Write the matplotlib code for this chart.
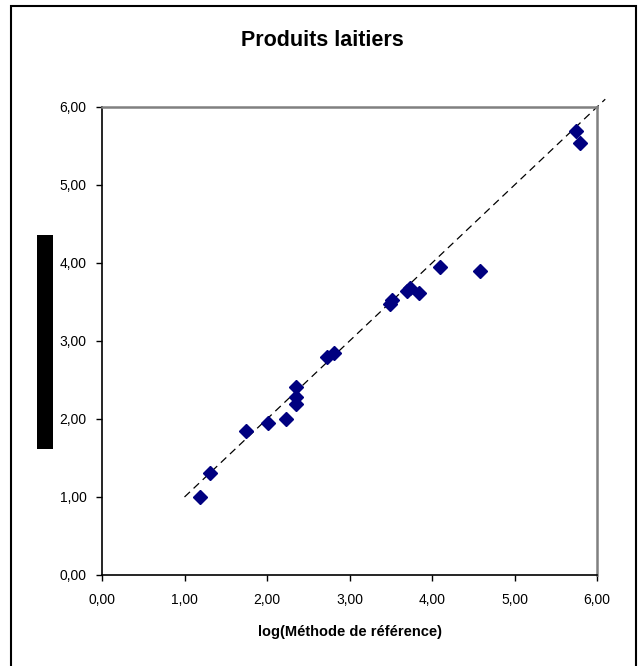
import matplotlib
matplotlib.use('Agg')
import matplotlib.pyplot as plt
from matplotlib.patches import Rectangle

plt.rcParams['font.family'] = ['Liberation Sans', 'DejaVu Sans']

# log(méthode de référence) vs log(autre méthode)
x_ref = [1.19, 1.31, 1.75, 2.01, 2.23, 2.35, 2.35, 2.35, 2.73, 2.81,
         3.49, 3.52, 3.70, 3.73, 3.84, 4.10, 4.58, 5.75, 5.79]
y_alt = [1.00, 1.31, 1.85, 1.95, 2.00, 2.41, 2.28, 2.19, 2.79, 2.85,
         3.47, 3.53, 3.64, 3.68, 3.61, 3.95, 3.90, 5.69, 5.54]
diag = [1.0, 6.1]
ticks = [0, 1, 2, 3, 4, 5, 6]
tick_labels = ['0,00', '1,00', '2,00', '3,00', '4,00', '5,00', '6,00']

fig = plt.figure(figsize=(6.44, 6.66), dpi=100)

# cadre extérieur
fig.patches.append(Rectangle((11/644, -0.05), 625/644, 1.05 - 6/666,
                             transform=fig.transFigure, fill=False,
                             edgecolor='black', linewidth=1.5))

ax = fig.add_axes([102/644, (666-575)/666, 495/644, 468/666])

ax.plot(diag, diag, linestyle=(0, (6, 4)), color='black', linewidth=0.9,
        clip_on=False, zorder=2)
ax.plot(x_ref, y_alt, linestyle='none', marker='D', markersize=7.2,
        color='#000080', zorder=3)

ax.set_xlim(0, 6)
ax.set_ylim(0, 6)
ax.set_xticks(ticks)
ax.set_xticklabels(tick_labels, fontsize=10)
ax.set_yticks(ticks)
ax.set_yticklabels(tick_labels, fontsize=10)
ax.tick_params(direction='out', length=4, width=1, pad=7)
ax.tick_params(axis='x', pad=9)

ax.spines['top'].set_color('#808080')
ax.spines['right'].set_color('#808080')
ax.spines['top'].set_linewidth(1.8)
ax.spines['right'].set_linewidth(1.8)
ax.spines['left'].set_linewidth(1.2)
ax.spines['bottom'].set_linewidth(1.2)

ax.set_xlabel('log(Méthode de référence)', fontsize=10.5, fontweight='bold',
              labelpad=13)

fig.text(322/644, 1 - 41/666, 'Produits laitiers', ha='center', va='center',
         fontsize=15.5, fontweight='bold')

# étiquette de l'axe y masquée
fig.patches.append(Rectangle((37/644, 1 - 449/666), 16/644, 214/666,
                             transform=fig.transFigure, facecolor='black',
                             edgecolor='none'))

fig.savefig('out.png', dpi=100)
